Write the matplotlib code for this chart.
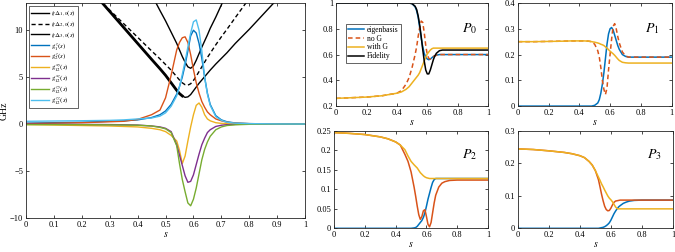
import numpy as np
import matplotlib
matplotlib.use("Agg")
import matplotlib.pyplot as plt

plt.rcParams['font.family'] = ['Liberation Serif', 'DejaVu Serif']
plt.rcParams['mathtext.fontset'] = 'stix'
plt.rcParams['axes.linewidth'] = 0.6

# ---------- left panel: energies and couplings (GHz) ----------
s_left = [0, 0.1, 0.2, 0.3, 0.35, 0.4, 0.45, 0.48, 0.5, 0.52, 0.54, 0.55, 0.56, 0.57, 0.58,
          0.59, 0.6, 0.61, 0.62, 0.63, 0.64, 0.65, 0.66, 0.68, 0.7, 0.72, 0.75, 0.8, 0.9, 1.0]

d10 = [22.1, 18.7, 15.4, 12.0, 10.3, 8.6, 6.9, 5.9, 5.2, 4.4, 3.6, 3.25, 3.0, 2.85, 2.9,
       3.15, 3.55, 3.95, 4.35, 4.7, 5.05, 5.4, 5.75, 6.4, 7.0, 7.6, 8.6, 10.1, 13.3, 16.4]
d20 = [20.9, 17.95, 15.05, 12.15, 10.7, 9.25, 7.8, 6.95, 6.35, 5.75, 5.05, 4.7, 4.4, 4.2, 4.15,
       4.3, 4.65, 5.1, 5.6, 6.1, 6.6, 7.1, 7.55, 8.45, 9.3, 10.1, 11.35, 13.4, 17.5, 21.6]
d30 = [39.0, 33.7, 28.0, 22.3, 19.5, 16.7, 13.8, 12.1, 11.0, 9.8, 8.6, 7.9, 7.2, 6.6, 6.1,
       5.95, 6.2, 6.8, 7.5, 8.2, 8.85, 9.5, 10.2, 11.4, 12.7, 14.0, 15.9, 19.0, 25.3, 31.6]

g1z = [0.1, 0.15, 0.2, 0.3, 0.35, 0.45, 0.7, 1.0, 1.4, 2.1, 3.2, 4.0, 5.0, 6.3, 7.8,
       9.4, 10.0, 9.7, 8.6, 7.0, 5.0, 3.3, 2.1, 0.9, 0.45, 0.25, 0.12, 0.05, 0.02, 0.01]
g2z = [0.05, 0.1, 0.15, 0.25, 0.3, 0.5, 1.0, 1.5, 2.8, 5.2, 7.9, 8.7, 9.2, 9.3, 8.7,
       7.4, 5.8, 4.4, 3.3, 2.4, 1.8, 1.3, 1.0, 0.55, 0.35, 0.2, 0.1, 0.05, 0.02, 0.0]
g12_xy = [-0.05, -0.1, -0.15, -0.2, -0.25, -0.3, -0.45, -0.6, -0.8, -1.2, -1.8, -2.8, -4.2, -3.4, -1.8,
          -0.3, 1.0, 2.0, 2.25, 1.8, 1.0, 0.55, 0.35, 0.15, 0.08, 0.04, 0.02, 0.01, 0.0, 0.0]
g12_xz = [0.0, -0.02, -0.03, -0.05, -0.07, -0.1, -0.2, -0.3, -0.45, -0.8, -2.2, -3.3, -4.4, -5.5, -6.2,
          -6.1, -5.4, -4.3, -3.2, -2.2, -1.5, -0.9, -0.6, -0.25, -0.12, -0.06, -0.03, 0.0, 0.0, 0.0]
g12_zy = [-0.05, -0.05, -0.06, -0.08, -0.1, -0.12, -0.2, -0.35, -0.5, -0.9, -2.3, -4.2, -5.9, -7.2, -8.4,
          -8.7, -8.0, -6.8, -5.3, -3.8, -2.7, -1.9, -1.3, -0.6, -0.3, -0.15, -0.07, -0.02, 0.0, 0.0]
g12_zz = [0.3, 0.33, 0.36, 0.4, 0.45, 0.55, 0.65, 0.85, 1.2, 1.9, 3.0, 4.0, 5.3, 6.7, 8.2,
          9.7, 10.9, 11.1, 10.0, 7.8, 5.0, 3.2, 2.0, 0.8, 0.4, 0.2, 0.1, 0.05, 0.02, 0.01]

left_labels = [r'$t_f\Delta_{1,0}(s)$', r'$t_f\Delta_{2,0}(s)$', r'$t_f\Delta_{3,0}(s)$',
               r'$g_1^z(s)$', r'$g_2^z(s)$', r'$g_{12}^{xy}(s)$', r'$g_{12}^{xz}(s)$',
               r'$g_{12}^{zy}(s)$', r'$g_{12}^{zz}(s)$']

# ---------- right panels: populations ----------
s_right = [0, 0.1, 0.2, 0.3, 0.35, 0.4, 0.43, 0.46, 0.48, 0.5, 0.52, 0.53, 0.54, 0.55, 0.56, 0.57,
           0.58, 0.59, 0.6, 0.61, 0.62, 0.63, 0.64, 0.65, 0.66, 0.68, 0.7, 0.72, 0.75, 0.8, 0.9, 1.0]

p0_eig = [1, 1, 1, 1, 1, 1, 1, 1, 1.0, 0.995, 0.97, 0.94, 0.89, 0.81, 0.73, 0.66,
          0.61, 0.58, 0.565, 0.56, 0.565, 0.575, 0.585, 0.59, 0.595, 0.6, 0.6, 0.6, 0.6, 0.6, 0.6, 0.6]
p0_noG = [0.26, 0.265, 0.27, 0.28, 0.29, 0.3, 0.32, 0.37, 0.42, 0.5, 0.6, 0.66, 0.74, 0.81, 0.86, 0.85,
          0.77, 0.67, 0.6, 0.57, 0.565, 0.575, 0.585, 0.59, 0.595, 0.6, 0.6, 0.6, 0.6, 0.6, 0.6, 0.6]
p0_G = [0.26, 0.265, 0.27, 0.28, 0.29, 0.3, 0.31, 0.33, 0.35, 0.38, 0.41, 0.425, 0.44, 0.46, 0.49, 0.52,
        0.55, 0.58, 0.605, 0.62, 0.635, 0.645, 0.65, 0.65, 0.65, 0.65, 0.65, 0.65, 0.65, 0.65, 0.65, 0.65]
p0_fid = [1, 1, 1, 1, 1, 1, 1, 1, 1.0, 0.995, 0.975, 0.95, 0.9, 0.83, 0.74, 0.64,
          0.55, 0.48, 0.45, 0.45, 0.48, 0.52, 0.56, 0.59, 0.61, 0.63, 0.635, 0.635, 0.635, 0.635, 0.635, 0.635]

p1_eig = [0, 0, 0, 0, 0, 0, 0, 0, 0, 0.003, 0.012, 0.025, 0.05, 0.085, 0.13, 0.185,
          0.24, 0.28, 0.3, 0.305, 0.295, 0.275, 0.255, 0.235, 0.22, 0.2, 0.193, 0.19, 0.19, 0.19, 0.19, 0.19]
p1_noG = [0.25, 0.25, 0.251, 0.252, 0.253, 0.253, 0.253, 0.252, 0.25, 0.24, 0.215, 0.19, 0.15, 0.1, 0.065, 0.045,
          0.07, 0.14, 0.2, 0.26, 0.31, 0.32, 0.3, 0.27, 0.245, 0.21, 0.195, 0.19, 0.19, 0.19, 0.19, 0.19]
p1_G = [0.25, 0.25, 0.251, 0.252, 0.253, 0.253, 0.253, 0.252, 0.25, 0.248, 0.245, 0.243, 0.24, 0.238, 0.235, 0.23,
        0.225, 0.219, 0.213, 0.208, 0.203, 0.197, 0.19, 0.183, 0.177, 0.17, 0.168, 0.167, 0.167, 0.167, 0.167, 0.167]

p2_eig = [0, 0, 0, 0, 0, 0, 0, 0, 0, 0, 0.001, 0.002, 0.005, 0.01, 0.015, 0.02,
          0.028, 0.04, 0.057, 0.075, 0.09, 0.105, 0.118, 0.125, 0.128, 0.128, 0.128, 0.128, 0.128, 0.128, 0.128, 0.128]
p2_noG = [0.246, 0.244, 0.241, 0.235, 0.23, 0.222, 0.214, 0.19, 0.172, 0.145, 0.105, 0.082, 0.057, 0.035, 0.023, 0.03,
          0.045, 0.048, 0.03, 0.01, 0.004, 0.015, 0.04, 0.065, 0.085, 0.106, 0.116, 0.12, 0.123, 0.124, 0.124, 0.124]
p2_G = [0.246, 0.244, 0.241, 0.235, 0.23, 0.222, 0.214, 0.202, 0.186, 0.172, 0.163, 0.159, 0.155, 0.149, 0.143, 0.139,
        0.135, 0.132, 0.13, 0.129, 0.128, 0.128, 0.128, 0.128, 0.128, 0.128, 0.128, 0.128, 0.128, 0.128, 0.128, 0.128]

p3_eig = [0, 0, 0, 0, 0, 0, 0, 0, 0, 0, 0, 0.001, 0.002, 0.003, 0.005, 0.008,
          0.012, 0.017, 0.025, 0.035, 0.045, 0.053, 0.06, 0.066, 0.07, 0.077, 0.081, 0.084, 0.086, 0.087, 0.087, 0.087]
p3_noG = [0.245, 0.243, 0.239, 0.234, 0.23, 0.224, 0.218, 0.206, 0.195, 0.178, 0.15, 0.128, 0.105, 0.085, 0.068, 0.058,
          0.054, 0.055, 0.062, 0.072, 0.08, 0.084, 0.085, 0.086, 0.087, 0.087, 0.087, 0.087, 0.087, 0.087, 0.087, 0.087]
p3_G = [0.245, 0.243, 0.239, 0.234, 0.23, 0.224, 0.218, 0.206, 0.195, 0.178, 0.158, 0.148, 0.137, 0.128, 0.118, 0.109,
        0.1, 0.093, 0.088, 0.082, 0.074, 0.066, 0.061, 0.06, 0.06, 0.06, 0.06, 0.06, 0.06, 0.06, 0.06, 0.06]

c_blue = '#0072BD'
c_red = '#D95319'
c_yel = '#EDB120'
c_pur = '#7E2F8E'
c_grn = '#77AC30'
c_cyan = '#4DBEEE'


def style_axes(ax, fs=6):
    ax.tick_params(direction='in', length=2, width=0.5, labelsize=fs, top=True, right=True, pad=2)
    for sp in ax.spines.values():
        sp.set_color('#262626')
    ax.set_xlabel(r'$s$', fontsize=fs + 1, labelpad=1)


fig = plt.figure(figsize=(6.75, 2.52), dpi=100)

# left panel
ax = fig.add_axes([0.0385, 0.135, 0.4135, 0.853])
s = np.array(s_left)
lw = 1.0
ax.plot(s, d10, color='k', lw=lw, label=left_labels[0])
ax.plot(s, d20, color='k', lw=lw, ls=(0, (3, 2)), label=left_labels[1])
ax.plot(s, d30, color='k', lw=lw, label=left_labels[2])
left_branch = s <= 0.56
ax.plot(s[left_branch], np.array(d10)[left_branch], color='k', lw=2.0)
ax.plot(s, g1z, color=c_blue, lw=lw, label=left_labels[3])
ax.plot(s, g2z, color=c_red, lw=lw, label=left_labels[4])
ax.plot(s, g12_xy, color=c_yel, lw=lw, label=left_labels[5])
ax.plot(s, g12_xz, color=c_pur, lw=lw, label=left_labels[6])
ax.plot(s, g12_zy, color=c_grn, lw=lw, label=left_labels[7])
ax.plot(s, g12_zz, color=c_cyan, lw=lw, label=left_labels[8])
ax.set_xlim(0, 1)
ax.set_ylim(-10, 12.9)
ax.set_xticks(np.arange(0, 1.01, 0.1))
ax.set_xticklabels(['0', '0.1', '0.2', '0.3', '0.4', '0.5', '0.6', '0.7', '0.8', '0.9', '1'])
ax.set_yticks([-10, -5, 0, 5, 10])
style_axes(ax)
ax.set_ylabel('GHz', fontsize=7, labelpad=1)
ax.legend(loc='upper left', fontsize=5.0, handlelength=2.6, labelspacing=0.0, borderpad=0.3,
          handletextpad=0.3, borderaxespad=0.45, fancybox=False, edgecolor='#262626',
          framealpha=1).get_frame().set_linewidth(0.5)

# right panels
sr = np.array(s_right)
panels = [
    ([0.498, 0.579, 0.225, 0.409], p0_eig, p0_noG, p0_G, p0_fid, (0.2, 1), [0.2, 0.4, 0.6, 0.8, 1], ['0.2', '0.4', '0.6', '0.8', '1'], r'$P_0$', True),
    ([0.767, 0.579, 0.228, 0.409], p1_eig, p1_noG, p1_G, None, (0, 0.4), [0, 0.1, 0.2, 0.3, 0.4], ['0', '0.1', '0.2', '0.3', '0.4'], r'$P_1$', True),
    ([0.495, 0.094, 0.228, 0.386], p2_eig, p2_noG, p2_G, None, (0, 0.25), [0, 0.05, 0.1, 0.15, 0.2, 0.25], ['0', '0.05', '0.1', '0.15', '0.2', '0.25'], r'$P_2$', False),
    ([0.767, 0.094, 0.230, 0.386], p3_eig, p3_noG, p3_G, None, (0, 0.3), [0, 0.1, 0.2, 0.3], ['0', '0.1', '0.2', '0.3'], r'$P_3$', False),
]
for rect, eig, noG, withG, fid, ylim, yt, ytl, name, dashed in panels:
    a = fig.add_axes(rect)
    a.plot(sr, eig, color=c_blue, lw=1.1, label='eigenbasis')
    a.plot(sr, noG, color=c_red, lw=1.1, ls=(0, (3, 2)) if dashed else '-', label='no G')
    a.plot(sr, withG, color=c_yel, lw=1.1, label='with G')
    if fid is not None:
        a.plot(sr, fid, color='k', lw=1.1, label='Fidelity')
    a.set_xlim(0, 1)
    a.set_ylim(*ylim)
    a.set_xticks([0, 0.2, 0.4, 0.6, 0.8, 1])
    a.set_xticklabels(['0', '0.2', '0.4', '0.6', '0.8', '1'])
    a.set_yticks(yt)
    a.set_yticklabels(ytl)
    style_axes(a)
    a.text(0.83, 0.72, name, transform=a.transAxes, fontsize=10)
    if fid is not None:
        a.legend(loc='upper left', bbox_to_anchor=(0.065, 0.8), fontsize=5.5, handlelength=2.0,
                 labelspacing=0.1, borderpad=0.3, handletextpad=0.4, borderaxespad=0,
                 fancybox=False, edgecolor='#262626', framealpha=1).get_frame().set_linewidth(0.5)

fig.savefig('out.png', dpi=100)
